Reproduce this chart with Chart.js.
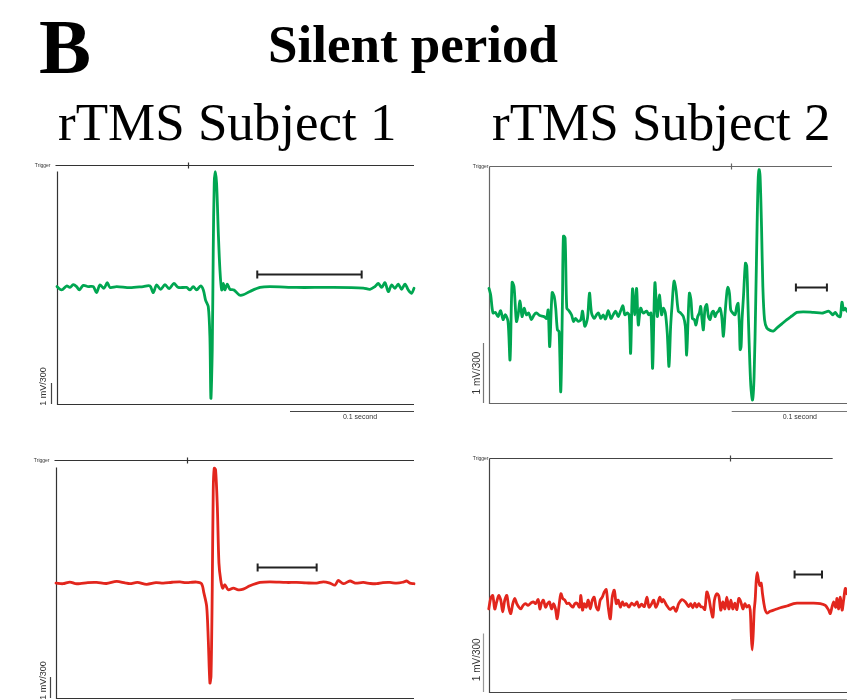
<!DOCTYPE html>
<html><head><meta charset="utf-8">
<script src="https://cdn.jsdelivr.net/npm/chart.js@4.4.1/dist/chart.umd.min.js"></script>
<style>
html,body{margin:0;padding:0;background:#fff;overflow:hidden;width:847px;height:700px;}
.t{position:absolute;font-family:"Liberation Serif","Times New Roman",serif;color:#000;white-space:nowrap;line-height:1;}
canvas{position:absolute;}
</style></head><body>
<div class="t" style="left:39px;top:8px;font-size:78px;font-weight:bold">B</div>
<div class="t" style="left:268px;top:17.6px;font-size:53px;font-weight:bold">Silent period</div>
<div class="t" style="left:58px;top:95.6px;font-size:53px">rTMS Subject 1</div>
<div class="t" style="left:492px;top:95.6px;font-size:53px">rTMS Subject 2</div>
<canvas id="p1" width="415" height="280" style="left:20px;top:150px"></canvas>
<canvas id="p2" width="392" height="280" style="left:455px;top:150px"></canvas>
<canvas id="p3" width="415" height="280" style="left:20px;top:445px"></canvas>
<canvas id="p4" width="392" height="280" style="left:455px;top:440px"></canvas>
<script>
// ---- Subject 1, pre-rTMS (green) : time in ms from trigger, amplitude in scale-bar units
const s1Time = [-105.6,-101.9,-97.8,-95.2,-92.5,-89.8,-87.6,-84.4,-80.4,-76.3,-73.7,-71.0,-67.7,-65.1,-62.9,-57.5,-46.8,-36.0,-30.6,-28.0,-25.3,-22.0,-18.5,-15.1,-11.3,-7.8,-1.1,1.6,4.3,7.0,10.2,12.4,14.2,16.4,17.7,18.5,19.6,20.4,21.2,22.0,23.1,24.5,25.8,27.2,28.5,29.8,31.7,33.9,37.1,41.4,44.6,50.0,58.1,66.1,87.6,114.5,141.4,146.8,150.8,153.5,156.2,158.9,161.6,164.2,166.9,169.6,172.3,175.0,177.7,180.4,182.3];
const s1Amp = [0.02,-0.14,0.05,-0.02,0.11,0.02,-0.14,0.08,0.02,0.02,-0.27,0.10,-0.06,0.21,-0.02,0.02,-0.03,0.02,0.05,-0.27,0.10,-0.11,0.11,-0.08,0.17,-0.02,-0.02,-0.14,0.02,-0.14,0.05,-0.14,-0.62,-0.94,-2.37,-5.30,-3.0,1.76,4.94,5.49,4.94,2.56,0.81,-0.14,0.17,-0.14,0.14,-0.11,-0.14,-0.38,-0.37,-0.21,-0.02,0.02,-0.02,-0.02,-0.05,-0.11,0.02,0.17,-0.02,0.21,-0.22,0.10,-0.06,0.14,-0.11,0.14,-0.14,-0.30,-0.06];
const s1Bracket = [55.9, 140.1, 0.62];   // silent period start, end (ms), level

// ---- Subject 2, pre-rTMS (green)
const s2Time = [-201.1,-199.7,-197.8,-195.8,-193.6,-191.4,-189.4,-187.5,-185.3,-183.6,-181.9,-180.3,-178.3,-176.9,-175.3,-173.6,-171.9,-170.0,-168.1,-165.8,-163.6,-161.7,-158.9,-155.3,-153.3,-151.9,-150.6,-148.6,-146.9,-145.6,-144.2,-142.8,-141.4,-140.0,-139.2,-137.8,-136.4,-134.7,-132.5,-130.8,-129.2,-126.9,-124.7,-123.3,-121.4,-119.2,-117.5,-115.8,-113.6,-111.7,-110.0,-108.1,-106.1,-104.2,-101.9,-99.7,-97.8,-95.8,-93.6,-91.7,-89.7,-88.1,-85.8,-84.4,-83.3,-81.7,-79.7,-78.3,-76.9,-75.0,-72.8,-70.0,-68.1,-66.4,-65.0,-63.1,-61.1,-59.4,-57.5,-56.1,-54.4,-52.8,-51.4,-50.0,-48.9,-47.2,-45.6,-43.6,-41.7,-39.4,-37.8,-36.7,-35.6,-34.4,-33.1,-31.9,-30.3,-28.9,-27.5,-26.1,-25.0,-23.9,-22.8,-21.4,-20.0,-18.6,-17.2,-15.8,-14.4,-13.1,-11.7,-10.3,-8.9,-7.5,-6.1,-4.7,-3.3,-2.5,-1.1,0,1.7,3.6,5.0,6.1,7.2,7.8,8.6,9.4,10.6,12.2,13.3,14.2,15.3,16.7,18.1,19.4,20.8,21.9,22.8,23.6,24.4,25.6,26.7,28.1,30.0,32.8,35.6,38.3,42.5,46.7,50.8,55.0,60.6,68.9,76.7,81.4,83.3,85.0,86.9,89.2,91.1,92.5,93.9,95.3,96.7];
const s2Amp = [0.44,0.33,0.03,0.04,-0.03,0.07,-0.08,0,-0.11,-0.75,0.54,0.47,-0.11,0,0.23,-0.03,0.11,0,0.03,-0.08,0,0.03,-0.01,-0.03,-0.06,0.08,-0.53,0.37,0.31,0.11,-0.25,-0.28,-1.28,0.22,1.31,1.28,0.11,0.07,0,-0.11,-0.06,-0.11,-0.08,0.06,-0.19,-0.06,0.36,0.03,-0.06,0,0.03,-0.06,0,-0.07,0.07,-0.06,0,0.06,-0.03,0.06,0.15,0,0.03,-0.03,-0.64,0.43,0,0.44,-0.17,0.11,0.03,0.06,0,0.03,-0.89,0.53,-0.03,0.33,0,0.11,0.03,-0.31,-0.86,-0.19,0.14,0.56,0.42,0.06,0.03,-0.03,-0.19,-0.67,-0.14,0.36,0.25,-0.06,-0.08,-0.17,-0.03,0.03,0.14,-0.08,-0.25,0.11,0.17,-0.03,-0.08,0.03,0.06,-0.03,0.03,0.06,0.11,-0.03,-0.36,0.03,0.36,0.46,0.36,0.08,0.03,0,0.14,0.19,-0.19,-0.58,-0.53,-0.08,0.31,0.86,0.81,0.25,-0.47,-1.19,-1.42,-1.03,0.25,1.47,2.25,2.42,2.31,1.47,0.47,-0.08,-0.22,-0.26,-0.27,-0.22,-0.15,-0.08,-0.02,0.04,0.05,0.04,0.03,0.06,0.03,0,0.04,-0.02,-0.03,0.21,0.08,0.11,0.06];
const s2Bracket = [54.2, 80.0, 0.46];

// ---- Subject 1, post-rTMS (red)
const s3Time = [-105.6,-100,-94.4,-90,-86.3,-80,-72.8,-65,-56.7,-50,-46.0,-40,-32.5,-25,-19.1,-12,-5.6,-1,2.4,7.8,11.8,13.7,15.9,17.2,18.5,19.4,20.4,21.2,22.0,23.1,24.5,25.8,27.2,28.8,30.6,33.3,37.4,41.4,45.4,50.8,58.9,66.9,80,88.4,96,104.6,110.0,115.3,119.4,122.0,126.1,131.5,135.5,142.2,148,153.0,158,163.7,169.1,174,177.2,179.8,183.1];
const s3Amp = [0,-0.03,0.05,-0.02,-0.03,0.02,0.03,-0.02,0.08,0.01,-0.03,0.03,-0.06,0.02,0,0.04,0.06,0.02,0.03,0.05,-0.03,-0.48,-1.11,-2.70,-4.76,-4.44,-0.32,4.44,5.48,5.40,3.65,0.95,0.16,-0.24,-0.08,-0.32,-0.24,-0.32,-0.29,-0.13,0.03,0.06,0.03,0.03,0.01,0,0.06,0,-0.10,0.13,-0.03,0.10,0,0.03,-0.02,-0.03,0.02,0.03,0,0.04,0.10,0,-0.03];
const s3Bracket = [57.0, 104.6, 0.75];

// ---- Subject 2, post-rTMS (red)
const s4Time = [-200.8,-199.2,-197.5,-195.8,-194.2,-192.5,-190.8,-189.2,-187.5,-185.8,-184.2,-182.5,-180.8,-179.2,-177.5,-175.8,-174.2,-172.2,-170.3,-168.1,-165.8,-163.6,-161.9,-159.7,-158.3,-156.9,-155.3,-153.6,-151.9,-150.3,-148.6,-146.9,-145.3,-143.9,-142.5,-140.8,-139.2,-137.5,-135.8,-134.2,-132.5,-130.8,-129.2,-127.5,-125.3,-124.2,-122.8,-121.4,-119.7,-118.1,-116.4,-114.7,-113.1,-111.4,-109.7,-108.1,-106.4,-104.7,-103.1,-101.4,-99.7,-98.1,-96.4,-94.7,-93.1,-91.4,-89.7,-88.1,-86.4,-84.2,-81.9,-79.7,-77.5,-75.8,-73.6,-71.4,-69.2,-67.5,-65.3,-63.6,-61.9,-60.3,-58.6,-56.9,-55.6,-52.8,-50.0,-47.2,-45.0,-42.8,-40.0,-37.2,-34.4,-32.8,-31.1,-29.4,-27.8,-26.1,-24.4,-22.8,-21.1,-19.4,-17.8,-16.1,-14.4,-13.1,-11.1,-9.4,-7.8,-6.1,-4.4,-2.8,-1.1,0.6,2.2,3.9,5.6,7.2,8.9,10.6,12.2,13.9,15.6,16.7,17.5,18.3,19.2,20.0,20.8,21.7,22.5,23.6,24.7,25.8,26.9,28.1,29.2,30.6,33.3,37.5,41.7,47.2,52.8,55.6,61.1,69.4,75.0,79.2,81.9,83.3,84.7,86.1,87.8,88.9,90.3,91.7,93.1,94.4,95.8,97.2];
const s4Amp = [-0.09,0.09,0.14,-0.09,0.03,0.14,0.06,-0.14,0.06,0.14,-0.06,-0.17,0,0.09,0,-0.06,-0.09,-0.03,0,-0.03,0.01,0.03,0,0.07,-0.09,0.01,0.06,-0.06,0,0.03,-0.09,0,-0.09,-0.26,-0.06,0.17,0.09,0.06,0,0.01,-0.03,-0.06,0,0.01,-0.06,0.14,-0.11,0,-0.06,0.06,-0.09,0.06,0.11,-0.06,-0.11,0.06,0.11,0.20,0.24,-0.06,-0.26,0.11,0.23,0,0.06,-0.06,0.03,-0.03,0,-0.06,0.01,-0.03,0.03,-0.06,-0.01,-0.05,0.11,-0.06,0,0.06,-0.06,0,0.11,0.03,0.07,-0.03,-0.10,-0.06,-0.13,0,0.07,0.03,-0.05,0,-0.07,0.01,-0.06,0,-0.05,-0.06,-0.10,0.20,0.11,-0.09,-0.23,0.06,0.17,0.13,-0.11,0.03,-0.09,0.11,-0.09,0.06,-0.09,0.01,-0.10,0.09,0.03,-0.09,0,-0.06,-0.03,-0.11,-0.51,-0.79,-0.51,-0.11,0.06,0.40,0.53,0.40,0.31,0.35,0.17,0,-0.11,-0.16,-0.13,-0.10,-0.07,-0.04,0,0.01,0.01,0.01,0,-0.03,-0.11,-0.17,-0.06,0.03,-0.06,0.09,-0.09,0.11,-0.11,0.06,0.26,0.17];
const s4Bracket = [53.6, 76.4, 0.50];

const GREEN = '#00a651', RED = '#e2261d';

const panelDeco = {
  id: 'panelDeco',
  beforeDatasetsDraw(chart, args, o) {
    const {ctx, chartArea: a, scales: {x, y}} = chart;
    const L = Math.round(a.left) + 0.5, B = Math.round(a.bottom) + 0.5, T = Math.round(a.top) + 0.5;
    ctx.save();
    ctx.strokeStyle = o.axisColor; ctx.lineWidth = 1.2;
    ctx.beginPath();
    ctx.moveTo(L - o.trigStart, T); ctx.lineTo(x.getPixelForValue(o.triggerEnd), T);
    const tx = Math.round(x.getPixelForValue(0)) + 0.5;
    ctx.moveTo(tx, T - 3); ctx.lineTo(tx, T + 3);
    ctx.moveTo(L, T + o.axisGap); ctx.lineTo(L, B); ctx.lineTo(a.right, B);
    ctx.stroke();
    ctx.fillStyle = '#333';
    ctx.font = '5px "Liberation Sans", Arial, sans-serif';
    ctx.textAlign = 'right'; ctx.textBaseline = 'alphabetic';
    ctx.fillText('Trigger', L - o.trigLabelGap, T + 1.5);
    const sx = L - o.barOffset;
    const y0 = y.getPixelForValue(o.yMin), y1 = y.getPixelForValue(o.yMin + o.scaleUnit);
    ctx.strokeStyle = o.barColor; ctx.lineWidth = 1.2;
    ctx.beginPath(); ctx.moveTo(sx, y0); ctx.lineTo(sx, y1); ctx.stroke();
    ctx.save();
    ctx.translate(sx - o.labelDx, (y0 + y1) / 2 + o.labelDy);
    ctx.rotate(-Math.PI / 2);
    ctx.font = o.labelFont + 'px "Liberation Sans", Arial, sans-serif';
    ctx.textAlign = 'center'; ctx.textBaseline = 'middle';
    ctx.fillText('1 mV/300', 0, 0);
    ctx.restore();
    const by = B + o.timeGap;
    const bx0 = x.getPixelForValue(o.timeBar[0]), bx1 = x.getPixelForValue(o.timeBar[1]);
    ctx.strokeStyle = o.barColor; ctx.lineWidth = 1.2;
    ctx.beginPath(); ctx.moveTo(bx0, by); ctx.lineTo(bx1, by); ctx.stroke();
    ctx.font = '7px "Liberation Sans", Arial, sans-serif';
    ctx.textAlign = 'center'; ctx.textBaseline = 'alphabetic';
    ctx.fillText('0.1 second', (bx0 + bx1) / 2 + 8, by + 7.5);
    ctx.restore();
  },
  afterDatasetsDraw(chart, args, o) {
    const {ctx, scales: {x, y}} = chart;
    const b = o.bracket;
    const x0 = x.getPixelForValue(b[0]), x1 = x.getPixelForValue(b[1]);
    const yb = Math.round(y.getPixelForValue(b[2])) + 0.5;
    ctx.save();
    ctx.strokeStyle = '#222'; ctx.lineWidth = 2;
    ctx.beginPath();
    ctx.moveTo(x0, yb); ctx.lineTo(x1, yb);
    ctx.moveTo(x0, yb - 4); ctx.lineTo(x0, yb + 4);
    ctx.moveTo(x1, yb - 4); ctx.lineTo(x1, yb + 4);
    ctx.stroke();
    ctx.restore();
  }
};

function makePanel(id, time, amp, color, cfg) {
  const pts = time.map((t, i) => ({x: t, y: amp[i]}));
  return new Chart(document.getElementById(id), {
    type: 'line',
    data: {datasets: [{data: pts, borderColor: color, borderWidth: 2.8, pointRadius: 0,
      tension: 0.3, clip: false, borderJoinStyle: 'round', borderCapStyle: 'round'}]},
    options: {
      responsive: false, animation: false, devicePixelRatio: 1, events: [],
      layout: {padding: cfg.pad, autoPadding: false},
      plugins: {legend: {display: false}, tooltip: {enabled: false}, title: {display: false}, panelDeco: cfg},
      scales: {
        x: {type: 'linear', display: false, min: cfg.xMin, max: cfg.xMax},
        y: {type: 'linear', display: false, min: cfg.yMin, max: cfg.yMax}
      }
    },
    plugins: [panelDeco]
  });
}

makePanel('p1', s1Time, s1Amp, GREEN, {
  pad: {left: 37, top: 15, right: 21, bottom: 26},
  xMin: -105.6, xMax: 182.3, yMin: -5.57, yMax: 5.81,
  triggerEnd: 182.3, trigStart: 2, trigLabelGap: 7, axisGap: 6,
  bracket: s1Bracket, timeBar: [82.3, 182.3], timeGap: 7, scaleUnit: 1,
  barOffset: 6, labelDx: 8, labelDy: -7, labelFont: 9, axisColor: '#333', barColor: '#444'
});
makePanel('p2', s2Time, s2Amp, GREEN, {
  pad: {left: 34, top: 16, right: 0, bottom: 27},
  xMin: -201.1, xMax: 96.7, yMin: -1.47, yMax: 2.48,
  triggerEnd: 84.2, trigStart: 0, trigLabelGap: 1, axisGap: 0,
  bracket: s2Bracket, timeBar: [0.8, 100.8], timeGap: 8, scaleUnit: 1,
  barOffset: 6, labelDx: 6, labelDy: 0, labelFont: 10, axisColor: '#666', barColor: '#777'
});
makePanel('p3', s3Time, s3Amp, RED, {
  pad: {left: 36, top: 15, right: 21, bottom: 27},
  xMin: -105.6, xMax: 183.1, yMin: -5.48, yMax: 5.87,
  triggerEnd: 183.1, trigStart: 2, trigLabelGap: 7, axisGap: 7,
  bracket: s3Bracket, timeBar: [83.1, 183.1], timeGap: 7, scaleUnit: 1,
  barOffset: 6, labelDx: 7, labelDy: -7, labelFont: 9, axisColor: '#333', barColor: '#444'
});
makePanel('p4', s4Time, s4Amp, RED, {
  pad: {left: 34, top: 18, right: 0, bottom: 28},
  xMin: -200.6, xMax: 97.2, yMin: -1.51, yMax: 2.49,
  triggerEnd: 85.3, trigStart: 0, trigLabelGap: 1, axisGap: 0,
  bracket: s4Bracket, timeBar: [1, 101], timeGap: 7, scaleUnit: 1,
  barOffset: 6, labelDx: 6, labelDy: -3, labelFont: 10, axisColor: '#444', barColor: '#999'
});
</script>
</body></html>
